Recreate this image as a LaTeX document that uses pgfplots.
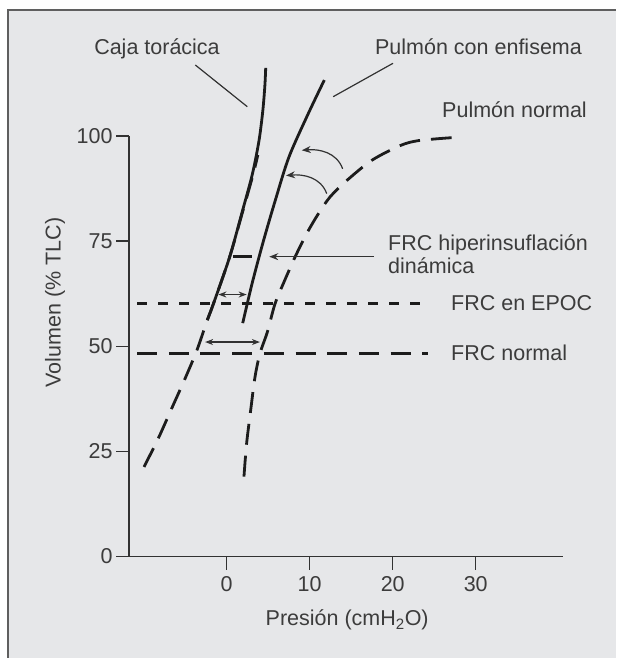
\documentclass[border=0pt]{standalone}
\usepackage{fontspec}
\setmainfont{Liberation Sans}
\usepackage{pgfplots}
\pgfplotsset{compat=1.18}
\usetikzlibrary{arrows.meta}
\definecolor{bggray}{RGB}{230,231,233}
\definecolor{framegray}{RGB}{95,95,95}
\definecolor{axisgray}{RGB}{50,50,50}
\definecolor{txtgray}{RGB}{60,60,60}
\definecolor{ink}{RGB}{28,28,28}
\newcommand{\lbl}{\fontsize{21.5}{24}\selectfont}
\begin{document}
\begin{tikzpicture}
\useasboundingbox (0,0) rectangle (616pt,658pt);
\fill[white] (0,0) rectangle (616pt,658pt);
\fill[bggray] (8pt,0) rectangle (616pt,648pt);
\draw[framegray, line width=1.6pt] (8pt,0) -- (8pt,648pt) -- (616pt,648pt);

\begin{axis}[
    at={(129pt,101.5pt)}, anchor=south west,
    scale only axis, width=433.7pt, height=420.5pt,
    xmin=-11.77, xmax=40.48, ymin=0, ymax=100,
    axis lines=left,
    axis line style={-, line width=1.3pt, draw=axisgray},
    xtick={0,10,20,30}, ytick={0,25,50,75,100},
    tick align=outside, major tick length=13pt,
    tick style={line width=1.3pt, draw=axisgray},
    ticklabel style={font=\lbl, text=txtgray},
    xticklabel style={yshift=-3pt},
    /pgf/number format/assume math mode=true,
    xlabel={Presión (cmH\textsubscript{2}O)},
    label style={font=\lbl, text=txtgray},
    xlabel style={at={(rel axis cs:0.503,-0.151)}, anchor=center},
    clip=false,
]
  % FRC lines
  \addplot[ink, line width=3pt, dash pattern=on 10pt off 11pt]
    coordinates {(-10.8,60.1) (24.2,60.1)};
  \addplot[ink, line width=3pt, dash pattern=on 20pt off 11.7pt]
    coordinates {(-10.8,48.3) (24.2,48.3)};
  % caja toracica (solid)
  \addplot[ink, line width=2.8pt, smooth]
    coordinates {(4.7,116.2) (4.6,112) (4.35,106) (3.9,99) (3.1,91) (1.9,82.2) (0.35,71.2) (-1.6,60.1) (-2.34,56.2)};
  % caja toracica (dashed continuation)
  \addplot[ink, line width=2.8pt, smooth, dash pattern=on 21pt off 11pt]
    coordinates {(-9.96,21.3) (-8.24,28.1) (-6.63,35.2) (-5.02,42.3) (-3.6,49.0) (-2.34,56.2)
                 (-1.6,60.1) (0.35,71.2) (1.95,82.2) (3.2,91) (3.75,95.5)};
  % pulmon con enfisema
  \addplot[ink, line width=2.8pt, smooth]
    coordinates {(1.93,55.5) (3.07,65) (4.42,75) (5.9,85) (7.5,95) (9.75,105) (11.76,113.3)};
  % pulmon normal
  \addplot[ink, line width=2.8pt, smooth, dash pattern=on 21pt off 11pt]
    coordinates {(2.08,19) (2.4,26.9) (2.89,34.8) (3.41,42.7) (4.01,48.3) (4.9,53.4) (5.82,60.1)
                 (6.82,64.9) (8.23,71.2) (9.64,76.8) (11.04,81.5) (12.45,85.5) (14.46,89.4)
                 (17.47,94.2) (20.88,97.7) (23.1,98.9) (27.1,99.6)};
  % FRC hiperinsuflacion dinamica segment
  \addplot[ink, line width=3pt] coordinates {(0.8,71.3) (3.1,71.3)};

  % arrows
  \draw[axisgray, line width=1.2pt, -{Stealth[length=9pt,width=7pt]}]
    (axis cs:17.76,71.3) -- (axis cs:5.13,71.3);
  \draw[axisgray, line width=1.2pt, {Stealth[length=8pt,width=6pt]}-{Stealth[length=8pt,width=6pt]}]
    (axis cs:-1.0,62.3) -- (axis cs:2.4,62.3);
  \draw[axisgray, line width=1.2pt, {Stealth[length=8pt,width=6pt]}-{Stealth[length=8pt,width=6pt]}]
    (axis cs:-2.6,51.0) -- (axis cs:4.0,51.0);
  \draw[axisgray, line width=1.2pt, -{Stealth[length=9pt,width=7pt]}]
    (axis cs:13.97,92.2) to[out=110,in=5] (axis cs:9.04,96.6);
  \draw[axisgray, line width=1.2pt, -{Stealth[length=9pt,width=7pt]}]
    (axis cs:12.05,86.3) to[out=110,in=5] (axis cs:7.14,90.6);
\end{axis}

% labels and leader lines
\draw[axisgray, line width=1.2pt] (195.3pt,593pt) -- (247.3pt,551.3pt);
\draw[axisgray, line width=1.2pt] (393pt,594.7pt) -- (333.2pt,561.3pt);
\begin{scope}[every node/.style={inner sep=0pt, font=\lbl, text=txtgray}]
  \node[rotate=90, anchor=center] at (55pt,355.5pt) {Volumen (\% TLC)};
  \node[anchor=base] at (157pt,603pt) {Caja torácica};
  \node[anchor=base] at (478.5pt,603pt) {Pulmón con enfisema};
  \node[anchor=base] at (514.5pt,540pt) {Pulmón normal};
  \node[anchor=base west] at (388pt,407pt) {FRC hiperinsuflación};
  \node[anchor=base west] at (388pt,384pt) {dinámica};
  \node[anchor=west] at (451pt,355pt) {FRC en EPOC};
  \node[anchor=west] at (451pt,305pt) {FRC normal};
\end{scope}
\end{tikzpicture}
\end{document}
